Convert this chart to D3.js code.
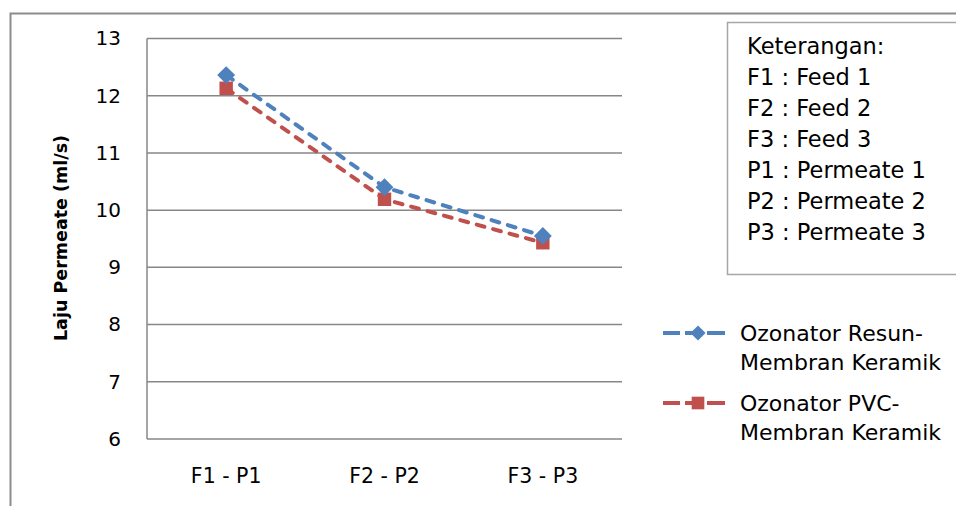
<!DOCTYPE html>
<html lang="en">
<head>
<meta charset="UTF-8">
<title>Laju Permeate</title>
<script src="https://cdn.jsdelivr.net/npm/d3@7"></script>
<style>
  body { margin: 0; background: #fff; }
  text { font-family: "DejaVu Sans", sans-serif; fill: #000; }
</style>
</head>
<body>
<div id="chart"></div>
<script>
// data
const categories = ['F1 - P1', 'F2 - P2', 'F3 - P3']
const resun = [12.36, 10.40, 9.55]
const pvc = [12.13, 10.19, 9.43]
const yTicks = [6, 7, 8, 9, 10, 11, 12, 13]
const seriesNames = [['Ozonator Resun-', 'Membran Keramik'], ['Ozonator PVC-', 'Membran Keramik']]
const notes = ['Keterangan:', 'F1 : Feed 1', 'F2 : Feed 2', 'F3 : Feed 3',
  'P1 : Permeate 1', 'P2 : Permeate 2', 'P3 : Permeate 3']

const width = 956, height = 506
const plot = {left: 147, right: 622, top: 38.5, bottom: 439}
const font = '"DejaVu Sans", sans-serif'

const svg = d3.select('#chart').append('svg')
  .attr('width', width).attr('height', height)

// outer chart frame (cut off at right and bottom)
svg.append('path')
  .attr('d', `M10.5,${height + 5} V13.5 H${width + 5}`)
  .attr('fill', 'none').attr('stroke', '#8c8c8c').attr('stroke-width', 2)

const x = d3.scaleBand().domain(categories).range([plot.left, plot.right])
const y = d3.scaleLinear().domain([6, 13]).range([plot.bottom, plot.top])

// gridlines
svg.append('g').selectAll('line').data(yTicks).join('line')
  .attr('x1', plot.left).attr('x2', plot.right)
  .attr('y1', d => y(d)).attr('y2', d => y(d))
  .attr('stroke', '#878787').attr('stroke-width', 1.5)

svg.append('line')
  .attr('x1', plot.left).attr('x2', plot.left)
  .attr('y1', plot.top).attr('y2', plot.bottom)
  .attr('stroke', '#878787').attr('stroke-width', 1.5)

// y axis labels
const yAxis = svg.append('g')
  .attr('transform', `translate(${plot.left},0)`)
  .call(d3.axisLeft(y).tickValues(yTicks).tickFormat(d3.format('d')).tickSize(0).tickPadding(26))
yAxis.select('.domain').remove()
yAxis.selectAll('text').style('font-size', '20px').style('font-family', font)

// x axis labels
const xAxis = svg.append('g')
  .attr('transform', `translate(0,${plot.bottom})`)
  .call(d3.axisBottom(x).tickSize(0))
xAxis.select('.domain').remove()
xAxis.selectAll('text').attr('y', 44).attr('dy', null)
  .style('font-size', '20.5px').style('font-family', font)

svg.append('text')
  .attr('transform', `translate(67,238) rotate(-90)`)
  .attr('text-anchor', 'middle')
  .style('font-size', '17.5px').style('font-weight', 'bold')
  .text('Laju Permeate (ml/s)')

const line = d3.line()
  .x((d, i) => x(categories[i]) + x.bandwidth() / 2)
  .y(d => y(d))

const diamond = d3.symbol().type(d3.symbolSquare).size(160)
const square = d3.symbol().type(d3.symbolSquare).size(180)
const series = [
  {vals: resun, color: '#4f81bd', shape: diamond, rot: 45},
  {vals: pvc, color: '#c0504d', shape: square, rot: 0}
]

// draw red first so blue sits on top like the reference
series.slice().reverse().forEach(s => {
  svg.append('path')
    .datum(s.vals)
    .attr('d', line)
    .attr('fill', 'none')
    .attr('stroke', s.color)
    .attr('stroke-width', 4)
    .attr('stroke-dasharray', '8 9')
    .attr('stroke-linecap', 'round')

  svg.append('g').selectAll('path').data(s.vals).join('path')
    .attr('transform', (d, i) => `translate(${x(categories[i]) + x.bandwidth() / 2},${y(d)}) rotate(${s.rot})`)
    .attr('d', s.shape())
    .attr('fill', s.color)
})

// notes box
const box = svg.append('g')
box.append('rect')
  .attr('x', 727.5).attr('y', 22.5).attr('width', 240).attr('height', 252)
  .attr('fill', '#fff').attr('stroke', '#a6a6a6').attr('stroke-width', 1.5)
box.selectAll('text').data(notes).join('text')
  .attr('x', 747).attr('y', (d, i) => 54 + i * 31)
  .style('font-size', '22.5px')
  .text(d => d)

// series legend
const leg = svg.append('g').selectAll('g').data(series).join('g')
  .attr('transform', (d, i) => `translate(0,${333 + i * 70})`)
leg.append('line')
  .attr('x1', 663).attr('x2', 725).attr('y1', 0).attr('y2', 0)
  .attr('stroke', d => d.color).attr('stroke-width', 4)
  .attr('stroke-dasharray', '17 5 18 4 18')
leg.append('path')
  .attr('transform', d => `translate(698,0) rotate(${d.rot})`)
  .attr('d', (d, i) => d3.symbol().type(d3.symbolSquare).size(i ? 160 : 115)())
  .attr('fill', d => d.color)
leg.each(function(d, i) {
  d3.select(this).selectAll('text').data(seriesNames[i]).join('text')
    .attr('x', 740).attr('y', (t, j) => 8 + j * 28.5)
    .style('font-size', '22px')
    .text(t => t)
})
</script>
</body>
</html>
